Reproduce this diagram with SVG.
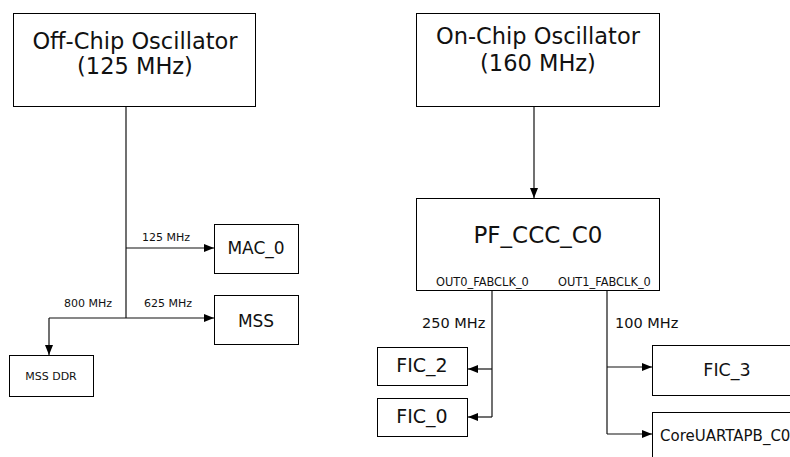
<svg xmlns="http://www.w3.org/2000/svg" width="790" height="457" viewBox="0 0 790 457">
<style>
.box{fill:#fff;stroke:#000;stroke-width:1}
.sh{fill:none;stroke:#8a8a8a;stroke-width:1.2}
.ln{fill:none;stroke:#111;stroke-width:1.2}
text{font-family:"DejaVu Sans",Verdana,sans-serif;fill:#111}
.c{text-anchor:middle}
</style>
<defs>
<marker id="ah" viewBox="0 0 10 8" refX="10" refY="4" markerWidth="10" markerHeight="8" markerUnits="userSpaceOnUse" orient="auto">
<path d="M0,0 L10,4 L0,8 Z" fill="#000"/>
</marker>
</defs>
<rect width="790" height="457" fill="#fff"/>
<g id="connectors">
<path class="ln" d="M126,106 V318"/>
<path class="ln" d="M126,248 H214" marker-end="url(#ah)"/>
<path class="ln" d="M49,318 H214" marker-end="url(#ah)"/>
<path class="ln" d="M49,318 V355" marker-end="url(#ah)"/>
<path class="ln" d="M534,106 V198" marker-end="url(#ah)"/>
<path class="ln" d="M492,290 V417"/>
<path class="ln" d="M492,369 H468" marker-end="url(#ah)"/>
<path class="ln" d="M492,417 H468" marker-end="url(#ah)"/>
<path class="ln" d="M607,290 V434"/>
<path class="ln" d="M607,367 H652" marker-end="url(#ah)"/>
<path class="ln" d="M607,434 H652" marker-end="url(#ah)"/>
<text x="142" y="241" font-size="11">125 MHz</text>
<text x="64" y="307" font-size="11">800 MHz</text>
<text x="144" y="307" font-size="11">625 MHz</text>
<text x="422" y="328" font-size="14.5">250 MHz</text>
<text x="615" y="328" font-size="14.5">100 MHz</text>
</g>
<g id="offchip">
<rect class="box" x="13.5" y="13.5" width="242" height="93"/>
<text class="c" x="135" y="49" font-size="22.5">Off-Chip Oscillator</text>
<text class="c" x="135" y="74" font-size="22.5">(125 MHz)</text>
</g>
<g id="onchip">
<rect class="box" x="416.5" y="13.5" width="243" height="93"/>
<text class="c" x="538" y="44" font-size="22.5">On-Chip Oscillator</text>
<text class="c" x="538" y="71" font-size="22.5">(160 MHz)</text>
</g>
<g id="mac0">
<rect class="box" x="214.5" y="224.5" width="84" height="49"/>
<text class="c" x="256" y="254" font-size="17">MAC_0</text>
</g>
<g id="mss">
<rect class="box" x="214.5" y="295.5" width="84" height="49"/>
<text class="c" x="256" y="327" font-size="17">MSS</text>
</g>
<g id="mssddr">
<rect class="box" x="9.5" y="355.5" width="84" height="41"/>
<text class="c" x="51" y="380" font-size="11">MSS DDR</text>
</g>
<g id="pfccc">
<rect class="box" x="416.5" y="198.5" width="243" height="92"/>
<text class="c" x="538" y="243" font-size="23">PF_CCC_C0</text>
<text x="436" y="286" font-size="11.4">OUT0_FABCLK_0</text>
<text x="558" y="286" font-size="11.4">OUT1_FABCLK_0</text>
</g>
<g id="fic2">
<rect class="box" x="377.5" y="347.5" width="90" height="38"/>
<text class="c" x="422" y="372" font-size="19">FIC_2</text>
</g>
<g id="fic0">
<rect class="box" x="377.5" y="398.5" width="90" height="38"/>
<text class="c" x="422" y="423" font-size="19">FIC_0</text>
</g>
<g id="fic3">
<rect class="box" x="652.5" y="345.5" width="150" height="50"/>
<text class="c" x="727" y="376" font-size="17.5">FIC_3</text>
</g>
<g id="coreuart">
<rect class="box" x="652.5" y="412.5" width="150" height="60"/>
<text x="660" y="441" font-size="15">CoreUARTAPB_C0</text>
</g>
</svg>
